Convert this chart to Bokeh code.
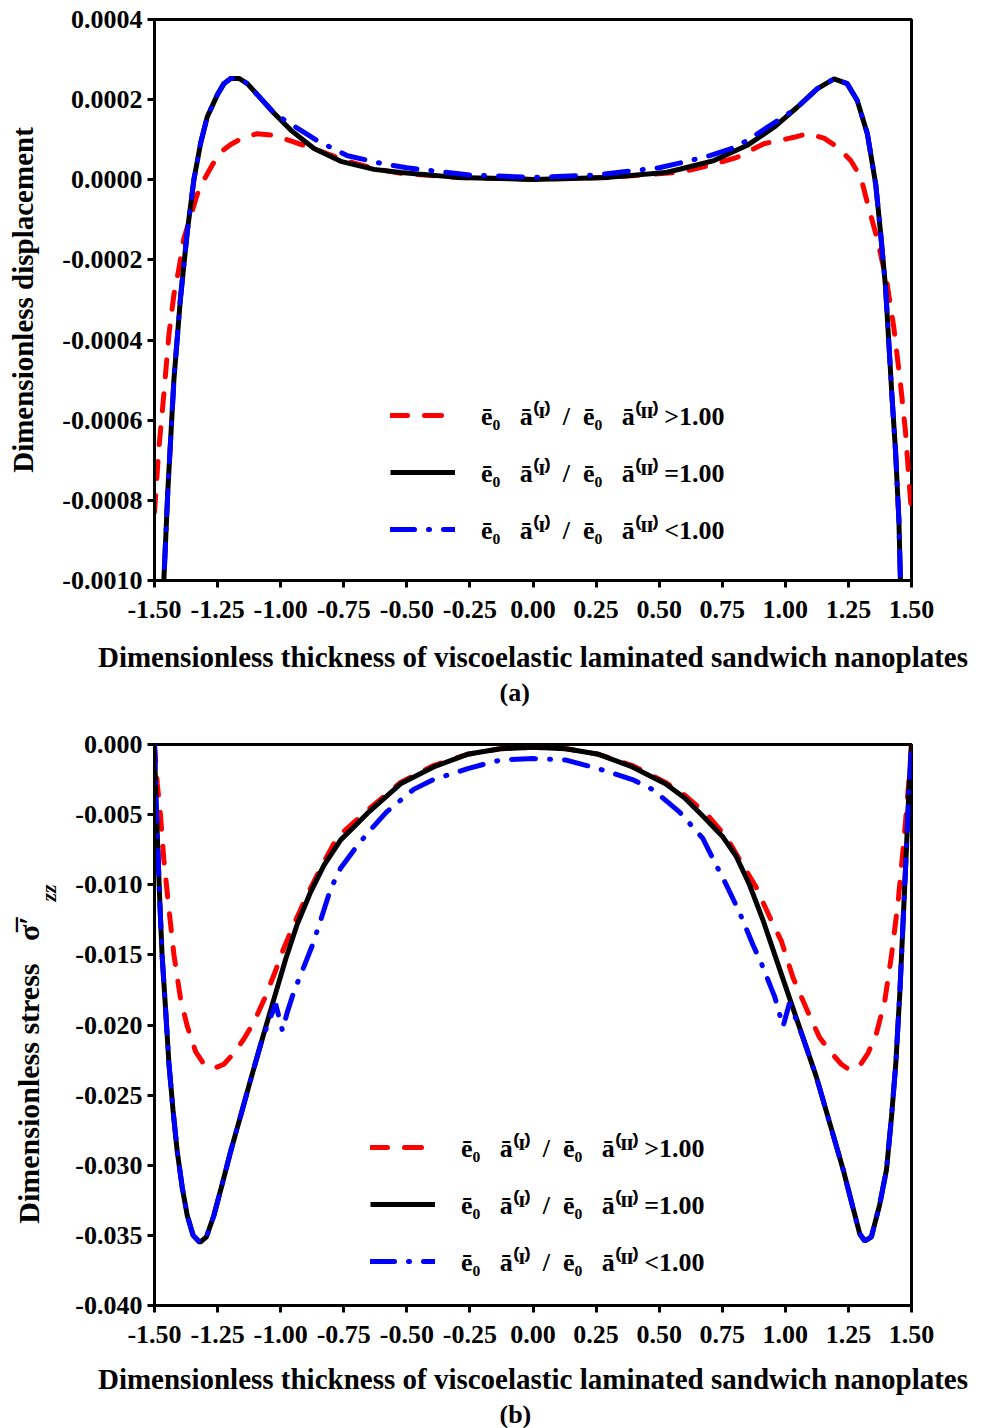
from bokeh.plotting import figure
from bokeh.models import Legend, LegendItem, Title, FixedTicker, Range1d, LinearAxis
from bokeh.layouts import column
from bokeh.embed import file_html
from bokeh.resources import INLINE

# ---------------- tick definitions ----------------
x_ticks = [-1.5, -1.25, -1.0, -0.75, -0.5, -0.25, 0.0, 0.25, 0.5, 0.75, 1.0, 1.25, 1.5]
x_tick_labels = ["-1.50", "-1.25", "-1.00", "-0.75", "-0.50", "-0.25", "0.00",
                 "0.25", "0.50", "0.75", "1.00", "1.25", "1.50"]
a_y_ticks = [-0.0010, -0.0008, -0.0006, -0.0004, -0.0002, 0.0, 0.0002, 0.0004]
a_y_tick_labels = ["-0.0010", "-0.0008", "-0.0006", "-0.0004", "-0.0002", "0.0000", "0.0002", "0.0004"]
b_y_ticks = [-0.040, -0.035, -0.030, -0.025, -0.020, -0.015, -0.010, -0.005, 0.0]
b_y_tick_labels = ["-0.040", "-0.035", "-0.030", "-0.025", "-0.020", "-0.015", "-0.010", "-0.005", "0.000"]

legend_labels = [
    "ē₀\u2002 ā⁽ᴵ⁾\u2009 /\u2002ē₀\u2002 ā⁽ᴵᴵ⁾\u2009>1.00",
    "ē₀\u2002 ā⁽ᴵ⁾\u2009 /\u2002ē₀\u2002 ā⁽ᴵᴵ⁾\u2009=1.00",
    "ē₀\u2002 ā⁽ᴵ⁾\u2009 /\u2002ē₀\u2002 ā⁽ᴵᴵ⁾\u2009<1.00",
]

EM = "\u2003"
b_y_label = "Dimensionless stress\u2002 σ̅′" + EM * 3
b_y_sub = EM * 12 + "zz"

# ---------------- (a) displacement ----------------
a_red_x = [-1.500, -1.496, -1.483, -1.463, -1.443, -1.423, -1.403, -1.384, -1.357, -1.331,
           -1.304, -1.271, -1.238, -1.198, -1.146, -1.093, -1.026, -0.960, -0.894, -0.815,
           -0.735, -0.630, -0.524, -0.300, 0.000, 0.300, 0.524, 0.585, 0.700, 0.809,
           0.915, 1.034, 1.087, 1.153, 1.210, 1.259, 1.299, 1.324, 1.364, 1.403, 1.430,
           1.456, 1.476, 1.493, 1.500]
a_red_y = [-0.000830, -0.000793, -0.000673, -0.000535, -0.000387, -0.000286, -0.000221,
           -0.000147, -0.000092, -0.000037, 0.000000, 0.000037, 0.000069, 0.000088, 0.000106,
           0.000115, 0.000111, 0.000097, 0.000083, 0.000065, 0.000046, 0.000028, 0.000016,
           0.000006, 0.000001, 0.000006, 0.000016, 0.000019, 0.000036, 0.000056, 0.000090,
           0.000106, 0.000115, 0.000104, 0.000080, 0.000048, 0.000007, -0.000055, -0.000147,
           -0.000258, -0.000369, -0.000507, -0.000627, -0.000774, -0.000830]

a_black_x = [-1.470, -1.463, -1.447, -1.423, -1.397, -1.370, -1.344, -1.317, -1.291,
             -1.251, -1.225, -1.198, -1.165, -1.132, -1.079, -1.026, -0.960, -0.868, -0.762,
             -0.630, -0.524, -0.300, 0.000, 0.300, 0.524, 0.585, 0.717, 0.849, 0.955, 1.047,
             1.126, 1.193, 1.245, 1.285, 1.325, 1.358, 1.377, 1.397, 1.410, 1.423, 1.437,
             1.450, 1.456, 1.462]
a_black_y = [-0.00110, -0.00100, -0.000774, -0.000498, -0.000295, -0.000129,
             0.000000, 0.000092, 0.000157, 0.000212, 0.000240, 0.000253, 0.000253, 0.000240,
             0.000203, 0.000166, 0.000124, 0.000078, 0.000046, 0.000026, 0.000018, 0.000006,
             0.000001, 0.000006, 0.000018, 0.000027, 0.000048, 0.000086, 0.000131, 0.000181,
             0.000227, 0.000252, 0.000240, 0.000198, 0.000115, -0.000010, -0.000129,
             -0.000267, -0.000406, -0.000544, -0.000680, -0.000848, -0.000995, -0.00110]

a_blue_x = [-1.470, -1.463, -1.447, -1.423, -1.397, -1.370, -1.344, -1.317, -1.291,
            -1.251, -1.225, -1.198, -1.165, -1.132, -1.079, -1.026, -0.934, -0.854, -0.735,
            -0.603, -0.500, -0.250, 0.000, 0.250, 0.500, 0.598, 0.704, 0.783, 0.849, 0.928,
            1.000, 1.047, 1.126, 1.193, 1.245, 1.285, 1.325, 1.358, 1.377, 1.397, 1.410,
            1.423, 1.437, 1.450, 1.456, 1.462]
a_blue_y = [-0.00110, -0.00100, -0.000774, -0.000498, -0.000295, -0.000129,
            0.000000, 0.000092, 0.000157, 0.000212, 0.000240, 0.000253, 0.000253, 0.000240,
            0.000203, 0.000166, 0.000129, 0.000097, 0.000060, 0.000041, 0.000030, 0.000012,
            0.000006, 0.000012, 0.000030, 0.000044, 0.000061, 0.000077, 0.000098, 0.000131,
            0.000160, 0.000181, 0.000227, 0.000252, 0.000240, 0.000198, 0.000115, -0.000010,
            -0.000129, -0.000267, -0.000406, -0.000544, -0.000680, -0.000848, -0.000995,
            -0.00110]

# ---------------- (b) stress ----------------
b_red_x = [-1.500, -1.489, -1.476, -1.463, -1.443, -1.423, -1.397, -1.370, -1.337, -1.304,
           -1.265, -1.225, -1.185, -1.146, -1.106, -1.066, -1.026, -0.987, -0.947, -0.894,
           -0.841, -0.775, -0.700, -0.650, -0.525, -0.394, -0.260, -0.130, 0.000, 0.130,
           0.260, 0.394, 0.525, 0.600, 0.690, 0.766, 0.825, 0.885, 0.938, 0.984, 1.030,
           1.090, 1.136, 1.183, 1.222, 1.255, 1.295, 1.328, 1.361, 1.394, 1.421, 1.447,
           1.467, 1.483, 1.496, 1.500]
b_red_y = [0.0, -0.0028, -0.0051, -0.0082, -0.0117, -0.0150, -0.0181, -0.0201, -0.0219,
           -0.0228, -0.0231, -0.0228, -0.0220, -0.0210, -0.0198, -0.0182, -0.0164, -0.0145,
           -0.0128, -0.0107, -0.0088, -0.0066, -0.0054, -0.0046, -0.0027, -0.0015, -0.0007,
           -0.0003, -0.0002, -0.0003, -0.0007, -0.0015, -0.0027, -0.0036, -0.0050, -0.0066,
           -0.0084, -0.0102, -0.0123, -0.0140, -0.0166, -0.0191, -0.0209, -0.0220, -0.0228,
           -0.0232, -0.0229, -0.0220, -0.0206, -0.0183, -0.0150, -0.0112, -0.0074, -0.0041,
           -0.0011, 0.0]

b_black_x = [-1.500, -1.495, -1.487, -1.479, -1.470, -1.456, -1.443, -1.427, -1.410, -1.390,
             -1.370, -1.347, -1.320, -1.294, -1.265, -1.231, -1.198, -1.159, -1.119, -1.073,
             -1.026, -0.980, -0.934, -0.881, -0.828, -0.762, -0.700, -0.650, -0.525, -0.394,
             -0.260, -0.130, 0.000, 0.130, 0.260, 0.394, 0.525, 0.600, 0.673, 0.753, 0.806,
             0.858, 0.911, 0.964, 1.017, 1.070, 1.123, 1.176, 1.229, 1.269, 1.295, 1.315,
             1.341, 1.374, 1.401, 1.421, 1.438, 1.454, 1.467, 1.480, 1.489, 1.500]
b_black_y = [0.0, -0.0036, -0.0074, -0.0112, -0.0150, -0.0189, -0.0227, -0.0260, -0.0290,
             -0.0316, -0.0336, -0.0350, -0.0355, -0.0351, -0.0336, -0.0313, -0.0290, -0.0265,
             -0.0239, -0.0210, -0.0181, -0.0153, -0.0128, -0.0105, -0.0086, -0.0068, -0.0057,
             -0.0048, -0.0028, -0.0016, -0.0007, -0.0003, -0.0002, -0.0003, -0.0007, -0.0016,
             -0.0028, -0.0038, -0.0051, -0.0066, -0.0080, -0.0100, -0.0125, -0.0153, -0.0181,
             -0.0209, -0.0237, -0.0270, -0.0303, -0.0331, -0.0349, -0.0354, -0.0351, -0.0328,
             -0.0303, -0.0265, -0.0227, -0.0176, -0.0125, -0.0074, -0.0036, 0.0]

b_blue_x = [-1.500, -1.495, -1.487, -1.479, -1.470, -1.456, -1.443, -1.427, -1.410, -1.390,
            -1.370, -1.347, -1.320, -1.294, -1.265, -1.231, -1.198, -1.159, -1.119, -1.073,
            -1.020, -0.993, -0.974, -0.947, -0.907, -0.874, -0.841, -0.802, -0.762, -0.700,
            -0.650, -0.580, -0.473, -0.394, -0.255, -0.128, 0.000, 0.128, 0.255, 0.394,
            0.473, 0.580, 0.673, 0.726, 0.766, 0.819, 0.872, 0.905, 0.958, 0.991, 1.017,
            1.070, 1.123, 1.176, 1.229, 1.269, 1.295, 1.315, 1.341, 1.374, 1.401, 1.421,
            1.438, 1.454, 1.467, 1.480, 1.489, 1.500]
b_blue_y = [0.0, -0.0036, -0.0074, -0.0112, -0.0150, -0.0189, -0.0227, -0.0260, -0.0290,
            -0.0316, -0.0336, -0.0350, -0.0355, -0.0351, -0.0336, -0.0313, -0.0290, -0.0265,
            -0.0239, -0.0210, -0.0185, -0.0204, -0.0191, -0.0176, -0.0158, -0.0143, -0.0125,
            -0.0103, -0.0088, -0.0073, -0.0062, -0.0048, -0.0032, -0.0025, -0.0017, -0.0011,
            -0.0010, -0.0011, -0.0017, -0.0025, -0.0032, -0.0048, -0.0067, -0.0086, -0.0100,
            -0.0120, -0.0143, -0.0156, -0.0180, -0.0201, -0.0184, -0.0209, -0.0237, -0.0270,
            -0.0303, -0.0331, -0.0349, -0.0354, -0.0351, -0.0328, -0.0303, -0.0265, -0.0227,
            -0.0176, -0.0125, -0.0074, -0.0036, 0.0]

FONT = "Liberation Serif"
RED = "#ff0000"
BLUE = "#0000ff"
BLACK = "#000000"


def label_axis(text, size, style, standoff):
    ax = LinearAxis(ticker=FixedTicker(ticks=[], minor_ticks=[]),
                    axis_line_color=None, major_tick_line_color=None,
                    minor_tick_line_color=None, major_tick_out=0, major_tick_in=0,
                    minor_tick_out=0, minor_tick_in=0, major_label_standoff=0,
                    major_label_text_font_size="1px", axis_label=text,
                    axis_label_standoff=standoff, axis_label_text_font=FONT,
                    axis_label_text_font_style=style, axis_label_text_font_size=size,
                    axis_label_text_color="black")
    return ax


def make_fig(height, top, bottom, y_range, y_ticks, y_labels, y_label, y_label_size,
             caption, series, legend_loc, label_standoff, x_label_standoff):
    p = figure(width=990, height=height, output_backend="svg", toolbar_location=None,
               x_range=Range1d(-1.5, 1.5), y_range=Range1d(*y_range),
               min_border_left=154, min_border_right=79, min_border_top=top,
               min_border_bottom=bottom)
    p.xgrid.visible = False
    p.ygrid.visible = False
    p.outline_line_color = "black"
    p.outline_line_width = 3
    p.background_fill_color = "white"
    p.border_fill_color = "white"

    for ax, ticks, labels in ((p.xaxis[0], x_ticks, x_tick_labels), (p.yaxis[0], y_ticks, y_labels)):
        ax.ticker = FixedTicker(ticks=ticks, minor_ticks=[])
        ax.major_label_overrides = {t: l for t, l in zip(ticks, labels)}
        ax.axis_line_width = 3
        ax.major_tick_line_width = 3
        ax.major_tick_out = 7
        ax.major_tick_in = 0
        ax.minor_tick_line_color = None
        ax.major_label_text_font = FONT
        ax.major_label_text_font_style = "bold"
        ax.major_label_text_font_size = "26px"
        ax.major_label_text_color = "black"
        ax.axis_label_text_font = FONT
        ax.axis_label_text_font_style = "bold"
        ax.axis_label_text_color = "black"

    p.xaxis.axis_label = "Dimensionless thickness of viscoelastic laminated sandwich nanoplates"
    p.xaxis.axis_label_text_font_size = "29px"
    p.xaxis.major_label_standoff = 13
    p.xaxis.axis_label_standoff = x_label_standoff
    p.yaxis.major_label_standoff = 5
    if y_label is not None:
        p.yaxis.axis_label = y_label
        p.yaxis.axis_label_text_font_size = y_label_size
        p.yaxis.axis_label_standoff = label_standoff

    (rx, ry), (kx, ky), (bx, by) = series
    r1 = p.line(rx, ry, line_color=RED, line_width=5, line_dash="17 17", line_cap="round")
    r2 = p.line(kx, ky, line_color=BLACK, line_width=5)
    r3 = p.line(bx, by, line_color=BLUE, line_width=5, line_dash="24 14 1 14", line_cap="round")
    renderers = [r1, r2, r3]

    items = [LegendItem(label=legend_labels[i], renderers=[renderers[i]]) for i in range(3)]
    leg = Legend(items=items, location=legend_loc, border_line_color=None,
                 background_fill_alpha=0, padding=0, margin=0, spacing=21,
                 glyph_width=65, glyph_height=30, label_height=30, label_standoff=26,
                 label_text_font=FONT, label_text_font_style="bold",
                 label_text_font_size="26px", label_text_color="black")
    p.add_layout(leg, "center")

    cap = Title(text=caption, align="left", offset=345, text_font=FONT,
                text_font_style="bold", text_font_size="26px", text_color="black",
                standoff=0)
    p.add_layout(cap, "below")
    return p


p1 = make_fig(712, 19, 132, (-0.0010, 0.0004), a_y_ticks, a_y_tick_labels,
              "Dimensionless displacement", "29px", "(a)",
              ((a_red_x, a_red_y), (a_black_x, a_black_y), (a_blue_x, a_blue_y)),
              (236, 33), 20, 20)

p2 = make_fig(716, 32, 123, (-0.040, 0.0), b_y_ticks, b_y_tick_labels,
              None, None, "(b)",
              ((b_red_x, b_red_y), (b_black_x, b_black_y), (b_blue_x, b_blue_y)),
              (216, 26), 0, 17)

# y label of (b): subscript "zz" next to the tick labels, main text further out
p2.add_layout(label_axis(b_y_sub, "22px", "bold italic", 12), "left")
p2.add_layout(label_axis(b_y_label, "30px", "bold", -12), "left")

layout = column(p1, p2, spacing=0)
open("out.html", "w").write(file_html(layout, INLINE))
